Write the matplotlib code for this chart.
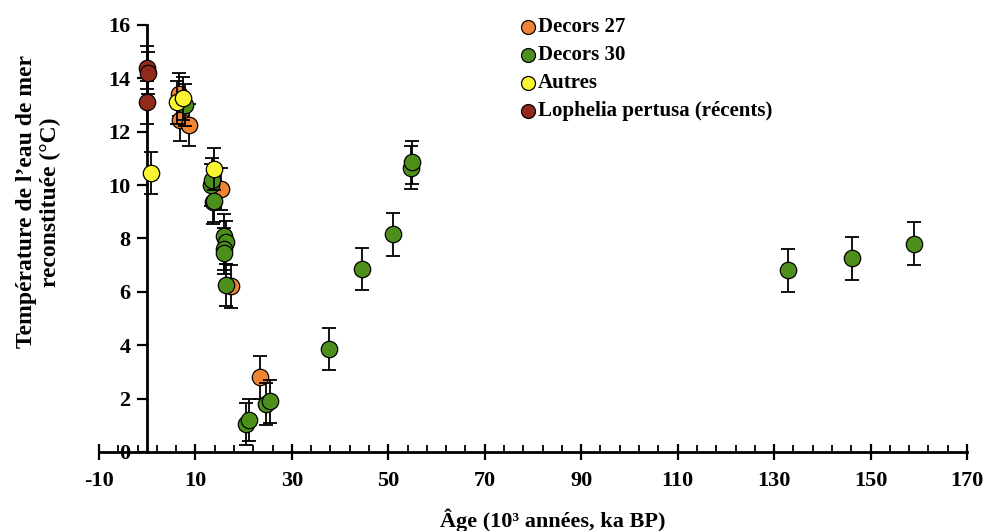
import matplotlib.pyplot as plt
import numpy as np

# Data (age in ka BP, temperature in deg C).
decors27_age = [6.5, 6.8, 8.6, 15.3, 17.3, 23.3]
decors27_temp = [13.4, 12.45, 12.25, 9.85, 6.2, 2.8]

decors30_age = [7.8, 13.2, 13.4, 13.6, 13.9, 15.9, 16.4, 16.0, 16.0, 16.4,
                20.5, 21.2, 24.6, 25.5, 37.8, 44.5, 50.9, 54.7, 54.9,
                132.9, 146.2, 159.0]
decors30_temp = [13.0, 10.0, 10.2, 9.35, 9.4, 8.1, 7.85, 7.6, 7.45, 6.25,
                 1.05, 1.2, 1.8, 1.9, 3.85, 6.85, 8.15, 10.65, 10.85,
                 6.8, 7.25, 7.8]

autres_age = [0.7, 6.2, 7.5, 13.9]
autres_temp = [10.45, 13.1, 13.25, 10.6]

lophelia_age = [0.0, 0.2, 0.0]
lophelia_temp = [14.4, 14.2, 13.1]

temp_err = 0.8

series = [
    ('Decors 27', decors27_age, decors27_temp, '#EE8434'),
    ('Decors 30', decors30_age, decors30_temp, '#4C8F1A'),
    ('Autres', autres_age, autres_temp, '#FAF533'),
    ('Lophelia pertusa (récents)', lophelia_age, lophelia_temp, '#922A1C'),
]

plt.rcParams['font.family'] = ['Liberation Serif', 'DejaVu Serif']
plt.rcParams['font.weight'] = 'bold'
plt.rcParams['axes.unicode_minus'] = False

fig = plt.figure(figsize=(9.87, 5.31), dpi=100)
ax = fig.add_axes([0.1003, 0.149, 0.8794, 0.804])

for i, (label, age, temp, color) in enumerate(series):
    ax.errorbar(age, temp, yerr=temp_err, fmt='none', ecolor='black',
                elinewidth=1.3, capsize=5, capthick=1.3, zorder=2 + i,
                clip_on=False)
    ax.scatter(age, temp, s=140, c=color, edgecolors='black', linewidths=0.9,
               zorder=2.5 + i, label=label, clip_on=False)

# Axes: y axis crosses at x = 0, x axis at y = 0.
ax.set_xlim(-10, 170)
ax.set_ylim(0, 16)
ax.spines['left'].set_position(('data', 0))
ax.spines['top'].set_visible(False)
ax.spines['right'].set_visible(False)
ax.spines['left'].set_linewidth(2)
ax.spines['bottom'].set_linewidth(2)

ax.set_xticks(np.arange(-10, 171, 20))
ax.set_xticks([v for v in range(-10, 171, 4) if (v + 10) % 20 != 0], minor=True)
ax.set_yticks(np.arange(0, 17, 2))
ax.tick_params(axis='x', which='major', direction='inout', length=11, width=1.6,
               labelsize=16, pad=8)
ax.tick_params(axis='x', which='minor', direction='in', length=5, width=1.3)
ax.tick_params(axis='y', direction='out', length=7, width=1.6, labelsize=16,
               pad=5)
for lab in ax.get_xticklabels() + ax.get_yticklabels():
    lab.set_fontweight('bold')

fig.text(0.039, 0.62, 'Température de l’eau de mer\nreconstituée (°C)',
         rotation=90, ha='center', va='center', fontsize=17, fontweight='bold',
         linespacing=1.15)
fig.text(0.56, 0.02, 'Âge (10³ années, ka BP)', ha='center', va='center',
         fontsize=16, fontweight='bold')

ax.legend(loc='upper left', bbox_to_anchor=(0.473, 1.038), frameon=False,
          handlelength=1.0, handletextpad=-0.05, labelspacing=0.39,
          borderaxespad=0, prop={'weight': 'bold', 'size': 15},
          markerscale=0.85)

fig.savefig('out.png', dpi=100)
